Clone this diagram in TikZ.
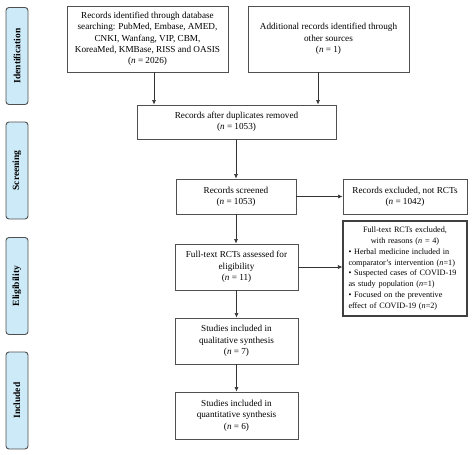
\documentclass[tikz,border=0pt]{standalone}
\usepackage{fontspec}
\setmainfont{Liberation Serif}
\usetikzlibrary{arrows.meta}
\definecolor{tabfill}{HTML}{CDEAF8}
\definecolor{edge}{HTML}{505050}
\begin{document}
\begin{tikzpicture}[x=1pt,y=-1pt,
  box/.style={draw=edge,line width=0.9pt,align=center,inner sep=1pt,font=\fontsize{9.2}{11.3}\selectfont},
  tab/.style={draw=edge,fill=tabfill,line width=0.9pt,rounded corners=3pt,minimum width=22pt,minimum height=97pt},
  tabtext/.style={rotate=90,font=\fontsize{9.5}{11}\selectfont\bfseries},
  arr/.style={draw=black!80,line width=0.6pt,-{Latex[length=4.5pt,width=4pt]}}]
\useasboundingbox (0,0) rectangle (474,455);
% tabs
\node[tab] (t1) at (17,56) {};
\node[tabtext] at (t1.center) {Identification};
\node[tab] (t2) at (17,170.5) {};
\node[tabtext] at (t2.center) {Screening};
\node[tab] (t3) at (17,286) {};
\node[tabtext] at (t3.center) {Eligibility};
\node[tab] (t4) at (17,400.5) {};
\node[tabtext] at (t4.center) {Included};
% boxes
\node[box,minimum width=161pt,minimum height=66pt] (b1) at (147.5,39)
 {Records identified through database\\searching: PubMed, Embase, AMED,\\CNKI, Wanfang, VIP, CBM,\\KoreaMed, KMBase, RISS and OASIS\\(\textit{n} = 2026)};
\node[box,minimum width=161pt,minimum height=66pt] (b2) at (328.5,39)
 {Additional records identified through\\other sources\\(\textit{n} = 1)};
\node[box,minimum width=199pt,minimum height=34pt] (dup) at (236.5,122)
 {Records after duplicates removed\\(\textit{n} = 1053)};
\node[box,minimum width=120pt,minimum height=35pt] (scr) at (236,196.5)
 {Records screened\\(\textit{n} = 1053)};
\node[box,minimum width=124pt,minimum height=35pt] (ex1) at (405,196.5)
 {Records excluded, not RCTs\\(\textit{n} = 1042)};
\node[box,minimum width=123pt,minimum height=46pt] (ft) at (236.5,267)
 {Full-text RCTs assessed for\\eligibility\\(\textit{n} = 11)};
\node[box,line width=1.1pt,draw=black!75,minimum width=124pt,minimum height=95pt,text width=113pt,inner xsep=5.5pt,align=left,font=\fontsize{8.2}{10.9}\selectfont] (ex2) at (405,268.5)
 {{\centering Full-text RCTs excluded,\\with reasons (\textit{n} = 4)\par}\raggedright
 \textbullet{} Herbal medicine included in\\comparator's intervention (\textit{n}=1)\\
 \textbullet{} Suspected cases of COVID-19\\as study population (\textit{n}=1)\\
 \textbullet{} Focused on the preventive\\effect of COVID-19 (\textit{n}=2)};
\node[box,minimum width=123pt,minimum height=46pt] (ql) at (236.5,341)
 {Studies included in\\qualitative synthesis\\(\textit{n} = 7)};
\node[box,minimum width=123pt,minimum height=47pt] (qn) at (236.5,415.5)
 {Studies included in\\quantitative synthesis\\(\textit{n} = 6)};
% connectors
\draw[arr] ([xshift=6.5pt]b1.south) -- ([xshift=6.5pt]b1.south |- dup.north);
\draw[arr] ([xshift=-10.5pt]b2.south) -- ([xshift=-10.5pt]b2.south |- dup.north);
\draw[arr] (dup.south -| scr.north) -- (scr.north);
\draw[arr] (scr.east) -- (ex1.west);
\draw[arr] (scr.south) -- (scr.south |- ft.north);
\draw[arr] (ft.east) -- (ft.east -| ex2.west);
\draw[arr] (ft.south) -- (ql.north);
\draw[arr] (ql.south) -- (qn.north);
\end{tikzpicture}
\end{document}
